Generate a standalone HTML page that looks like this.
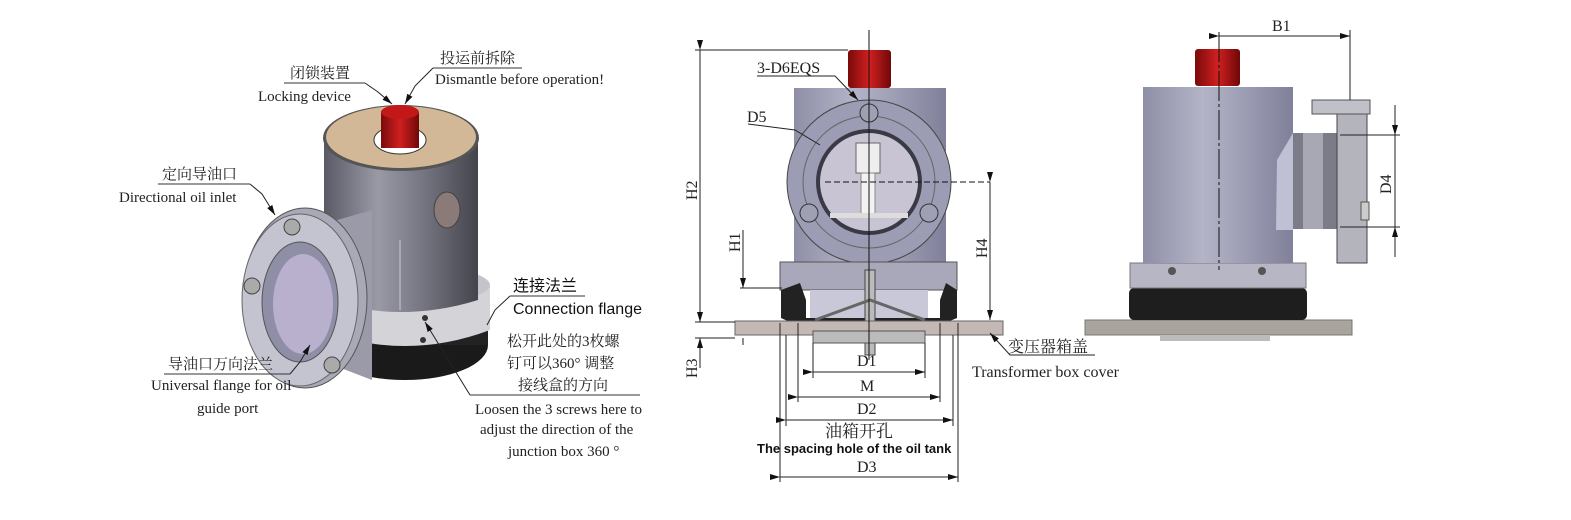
<!DOCTYPE html>
<html><head><meta charset="utf-8"><style>
html,body{margin:0;padding:0;background:#fff;}
svg{display:block;}
.s{font-family:"Liberation Serif","Noto Serif CJK SC","Noto Sans CJK SC",serif;fill:#222;}
.a{font-family:"Liberation Sans","Noto Sans CJK SC",sans-serif;fill:#111;}
</style></head><body>
<svg width="1571" height="520" viewBox="0 0 1571 520" xmlns="http://www.w3.org/2000/svg">
<defs>
<linearGradient id="cyl" x1="0" x2="1" y1="0" y2="0">
<stop offset="0" stop-color="#5a5a66"/><stop offset="0.35" stop-color="#9a9aa6"/><stop offset="0.7" stop-color="#6e6e7a"/><stop offset="1" stop-color="#44444c"/></linearGradient>
<linearGradient id="cyl2" x1="0" x2="1"><stop offset="0" stop-color="#8e8ea6"/><stop offset="0.4" stop-color="#b4b4c8"/><stop offset="1" stop-color="#80809a"/></linearGradient>
<linearGradient id="red" x1="0" x2="1"><stop offset="0" stop-color="#7a0a0a"/><stop offset="0.5" stop-color="#d02020"/><stop offset="1" stop-color="#700808"/></linearGradient>
<marker id="ar" markerWidth="10" markerHeight="6" refX="10" refY="3" orient="auto"><path d="M0,0 L10,3 L0,6 z" fill="#111"/></marker>
</defs>

<!-- ===== LEFT 3D VIEW ===== -->
<ellipse cx="405" cy="345" rx="83" ry="35" fill="#1a1a1a"/>
<rect x="322" y="300" width="166" height="45" fill="#222"/>
<path d="M320 285 L490 285 L490 330 Q405 362 320 330 Z" fill="#d4d4d8"/>
<ellipse cx="405" cy="285" rx="85" ry="20" fill="#c4c4ca"/>
<path d="M324 138 L478 138 L478 300 Q401 324 324 300 Z" fill="url(#cyl)"/>
<ellipse cx="401" cy="138" rx="78" ry="33" fill="#555"/>
<ellipse cx="401" cy="137" rx="75" ry="31" fill="#d2b896"/>
<ellipse cx="400" cy="140" rx="26" ry="14" fill="#fff" stroke="#333"/>
<rect x="381" y="112" width="38" height="36" fill="url(#red)"/>
<ellipse cx="400" cy="112" rx="19" ry="7" fill="#c21818"/>
<ellipse cx="447" cy="210" rx="13" ry="18" fill="#8a7a78" stroke="#444"/>
<line x1="400" y1="240" x2="400" y2="310" stroke="#ccc"/>
<circle cx="425" cy="318" r="3" fill="#333"/><circle cx="423" cy="340" r="3" fill="#333"/>
<!-- side pipe & flange -->
<path d="M320 225 L372 210 L372 380 L320 360 Z" fill="#9a9aa8"/>
<ellipse cx="305" cy="298" rx="62" ry="90" fill="#a8a8b6" stroke="#555"/>
<ellipse cx="300" cy="300" rx="58" ry="86" fill="#c4c4d0" stroke="#666"/>
<ellipse cx="300" cy="302" rx="38" ry="60" fill="#8e8ea6" stroke="#555"/>
<ellipse cx="303" cy="304" rx="30" ry="50" fill="#b8b0cc"/>
<circle cx="292" cy="227" r="8" fill="#aaa" stroke="#444"/>
<circle cx="252" cy="286" r="8" fill="#aaa" stroke="#444"/>
<circle cx="332" cy="365" r="8" fill="#aaa" stroke="#444"/>

<!-- left labels -->
<g class="s" font-size="15">
<text x="440" y="63">投运前拆除</text>
<line x1="433" y1="68" x2="522" y2="68" stroke="#333"/>
<text x="435" y="84">Dismantle before operation!</text>
<text x="290" y="78">闭锁装置</text>
<line x1="284" y1="83" x2="365" y2="83" stroke="#333"/>
<text x="258" y="101">Locking device</text>
<text x="162" y="179">定向导油口</text>
<line x1="158" y1="184" x2="250" y2="184" stroke="#333"/>
<text x="119" y="202">Directional oil inlet</text>
<text x="507" y="346">松开此处的3枚螺</text>
<text x="507" y="368">钉可以360° 调整</text>
<text x="518" y="390">接线盒的方向</text>
<line x1="470" y1="395" x2="640" y2="395" stroke="#333"/>
<text x="475" y="414">Loosen the 3 screws here to</text>
<text x="480" y="434">adjust the direction of the</text>
<text x="508" y="456">junction box 360 °</text>
<text x="168" y="369">导油口万向法兰</text>
<line x1="164" y1="374" x2="290" y2="374" stroke="#333"/>
<text x="151" y="390">Universal flange for oil</text>
<text x="197" y="413">guide port</text>
</g>
<g class="a" font-size="16">
<text x="513" y="291">连接法兰</text>
<line x1="510" y1="296" x2="585" y2="296" stroke="#333"/>
<text x="513" y="314">Connection flange</text>
</g>
<g stroke="#222" fill="none" stroke-width="1">
<polyline points="433,68 415,86 405,104" marker-end="url(#ar)"/>
<polyline points="365,83 378,92 392,104" marker-end="url(#ar)"/>
<polyline points="250,184 262,194 275,215" marker-end="url(#ar)"/>
<polyline points="510,296 495,310 487,325"/>
<polyline points="470,395 425,322" marker-end="url(#ar)"/>
<polyline points="290,374 300,362 310,345" marker-end="url(#ar)"/>
</g>

<!-- ===== MIDDLE FRONT VIEW ===== -->
<rect x="794" y="88" width="152" height="176" fill="url(#cyl2)"/>
<rect x="848" y="50" width="43" height="38" rx="3" fill="url(#red)"/>
<circle cx="869" cy="182" r="82" fill="#9c9cb4" stroke="#444"/>
<circle cx="869" cy="182" r="66" fill="none" stroke="#666"/>
<circle cx="869" cy="182" r="53" fill="#3a3a46"/>
<circle cx="869" cy="182" r="49" fill="#c8c4d4"/>
<rect x="856" y="143" width="24" height="30" fill="#eee" stroke="#666"/>
<rect x="861" y="173" width="14" height="42" fill="#f2f2f2" stroke="#888"/>
<rect x="830" y="213" width="78" height="5" fill="#ddd"/>
<circle cx="869" cy="113" r="9" fill="#a0a0b4" stroke="#333"/>
<circle cx="809" cy="213" r="9" fill="#a0a0b4" stroke="#333"/>
<circle cx="929" cy="213" r="9" fill="#a0a0b4" stroke="#333"/>
<rect x="780" y="262" width="177" height="28" fill="#a8a8ba" stroke="#555"/>
<path d="M781 290 L800 283 L806 300 L806 318 L940 318 L940 300 L946 283 L957 290 L957 318 L945 323 L792 323 L781 318 Z" fill="#222"/>
<rect x="810" y="290" width="118" height="28" fill="#c8c8d8"/>
<rect x="865" y="270" width="10" height="85" fill="#bbb" stroke="#444"/>
<path d="M815 320 L870 300 L925 320" stroke="#666" stroke-width="3" fill="none"/>
<rect x="735" y="321" width="268" height="14" fill="#c4b8b4" stroke="#666"/>
<rect x="813" y="331" width="112" height="12" fill="#bbb" stroke="#555"/>
<line x1="869" y1="30" x2="869" y2="360" stroke="#111" stroke-width="1"/>
<line x1="825" y1="182" x2="990" y2="182" stroke="#111" stroke-dasharray="6,3"/>

<!-- middle dimensions -->
<g stroke="#222" fill="none">
<line x1="695" y1="50" x2="848" y2="50"/>
<line x1="700" y1="50" x2="700" y2="322" marker-start="url(#ar)" marker-end="url(#ar)"/>
<line x1="695" y1="322" x2="735" y2="322"/>
<line x1="695" y1="338" x2="735" y2="338"/>
<line x1="700" y1="368" x2="700" y2="338" marker-end="url(#ar)"/>
<line x1="743" y1="230" x2="743" y2="288" marker-end="url(#ar)"/>
<line x1="740" y1="288" x2="782" y2="288"/>
<line x1="743" y1="338" x2="743" y2="345"/>
<line x1="990" y1="182" x2="990" y2="320" marker-start="url(#ar)" marker-end="url(#ar)"/>
<line x1="813" y1="343" x2="813" y2="378"/><line x1="925" y1="343" x2="925" y2="378"/>
<line x1="813" y1="372" x2="925" y2="372" marker-start="url(#ar)" marker-end="url(#ar)"/>
<line x1="798" y1="323" x2="798" y2="402"/><line x1="940" y1="323" x2="940" y2="402"/>
<line x1="798" y1="397" x2="940" y2="397" marker-start="url(#ar)" marker-end="url(#ar)"/>
<line x1="786" y1="335" x2="786" y2="426"/><line x1="953" y1="335" x2="953" y2="426"/>
<line x1="786" y1="420" x2="953" y2="420" marker-start="url(#ar)" marker-end="url(#ar)"/>
<line x1="780" y1="323" x2="780" y2="482"/><line x1="958" y1="323" x2="958" y2="482"/>
<line x1="780" y1="477" x2="958" y2="477" marker-start="url(#ar)" marker-end="url(#ar)"/>
<polyline points="757,76 835,76 858,100" marker-end="url(#ar)"/>
<polyline points="748,124 795,130 820,145"/>
<polyline points="1095,355 1010,355 990,333" marker-end="url(#ar)"/>
</g>
<g class="s" font-size="16">
<text x="757" y="73">3-D6EQS</text>
<text x="747" y="122">D5</text>
<text x="857" y="366">D1</text>
<text x="860" y="391">M</text>
<text x="857" y="414">D2</text>
<text x="825" y="437" font-size="17">油箱开孔</text>
<text x="857" y="472">D3</text>
<text x="1008" y="352">变压器箱盖</text>
<text x="972" y="377">Transformer box cover</text>
<text transform="translate(697,200) rotate(-90)">H2</text>
<text transform="translate(740,252) rotate(-90)">H1</text>
<text transform="translate(697,378) rotate(-90)">H3</text>
<text transform="translate(987,258) rotate(-90)">H4</text>
</g>
<text class="a" x="757" y="453" font-size="13" font-weight="bold">The spacing hole of the oil tank</text>

<!-- ===== RIGHT SIDE VIEW ===== -->
<rect x="1085" y="320" width="267" height="15" fill="#aaa49f" stroke="#777"/>
<rect x="1160" y="335" width="110" height="6" fill="#bbb"/>
<rect x="1129" y="288" width="178" height="32" rx="5" fill="#1e1e1e"/>
<rect x="1130" y="263" width="176" height="25" fill="#b6b6c4" stroke="#777"/>
<circle cx="1172" cy="271" r="4" fill="#555"/><circle cx="1262" cy="271" r="4" fill="#555"/>
<rect x="1143" y="87" width="150" height="176" fill="url(#cyl2)"/>
<rect x="1195" y="49" width="45" height="37" rx="3" fill="url(#red)"/>
<path d="M1293 133 L1277 160 L1276 230 L1293 230 Z" fill="#c0c0d4"/>
<rect x="1293" y="133" width="46" height="96" fill="#7c7c88"/>
<rect x="1303" y="133" width="20" height="96" fill="#a8a8b4"/>
<rect x="1337" y="110" width="30" height="153" fill="#b4b4bc" stroke="#444"/>
<rect x="1312" y="100" width="58" height="14" fill="#c0c0c8" stroke="#555"/>
<rect x="1361" y="202" width="8" height="18" fill="#ccc" stroke="#555"/>
<line x1="1219" y1="32" x2="1219" y2="270" stroke="#111" stroke-dasharray="30,3,3,3"/>
<g stroke="#222" fill="none">
<line x1="1350" y1="30" x2="1350" y2="100"/>
<line x1="1219" y1="36" x2="1350" y2="36" marker-start="url(#ar)" marker-end="url(#ar)"/>
<line x1="1340" y1="135" x2="1400" y2="135"/>
<line x1="1340" y1="227" x2="1400" y2="227"/>
<line x1="1395" y1="105" x2="1395" y2="135" marker-end="url(#ar)"/>
<line x1="1395" y1="257" x2="1395" y2="227" marker-end="url(#ar)"/>
<line x1="1395" y1="135" x2="1395" y2="227"/>
</g>
<g class="s" font-size="16">
<text x="1272" y="31">B1</text>
<text transform="translate(1391,194) rotate(-90)">D4</text>
</g>
</svg>
</body></html>
